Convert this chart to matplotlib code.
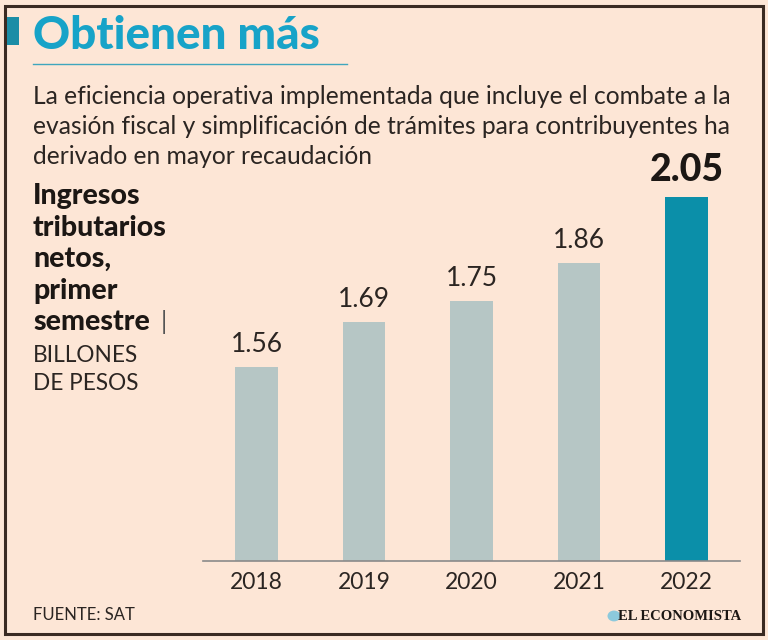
import matplotlib.pyplot as plt
from matplotlib.patches import Rectangle, Circle
from matplotlib.lines import Line2D

years = ["2018", "2019", "2020", "2021", "2022"]
ingresos = [1.56, 1.69, 1.75, 1.86, 2.05]
bar_colors = ["#b6c6c5", "#b6c6c5", "#b6c6c5", "#b6c6c5", "#0b8fa9"]

bg = "#fde6d6"
ink = "#2b2522"
plt.rcParams['font.family'] = ['Lato', 'DejaVu Sans']

W, H = 768, 640
fig = plt.figure(figsize=(7.68, 6.4), dpi=100, facecolor=bg)

def fx(x):
    return x / W

def fy(y):
    return 1 - y / H

# frame
fig.patches.append(Rectangle((fx(5), fy(634)), fx(758), (634 - 6) / H, transform=fig.transFigure,
                             fill=False, edgecolor="#3a2a22", linewidth=2.2))
fig.patches.append(Rectangle((fx(7), fy(45)), fx(12), 28 / H, transform=fig.transFigure,
                             facecolor="#1b8da6", edgecolor="none"))

fig.text(fx(33), fy(36), "Obtienen más", fontsize=33, fontweight="black", color="#17a3c8",
         va="center", ha="left")
fig.lines.append(Line2D([fx(33), fx(347)], [fy(64), fy(64)], transform=fig.transFigure,
                        color="#3fa6bd", linewidth=1))

sub = ["La eficiencia operativa implementada que incluye el combate a la",
       "evasión fiscal y simplificación de trámites para contribuyentes ha",
       "derivado en mayor recaudación"]
for i, line in enumerate(sub):
    fig.text(fx(33), fy(96 + 30 * i), line, fontsize=17.7, color=ink,
             va="center", ha="left")

left = ["Ingresos", "tributarios", "netos,", "primer", "semestre"]
for i, line in enumerate(left):
    fig.text(fx(33), fy(196 + 31.5 * i), line, fontsize=20.5, fontweight="black", color="#1c1714",
             va="center", ha="left")
fig.text(fx(161), fy(322), "|", fontsize=18, color="#555555", va="center", ha="left")
fig.text(fx(33), fy(355), "BILLONES", fontsize=16.3, color=ink, va="center", ha="left")
fig.text(fx(33), fy(384), "DE PESOS", fontsize=16.3, color=ink, va="center", ha="left")

# chart
ax = fig.add_axes([fx(203), fy(561), fx(740 - 203), (561 - 197) / H])
ax.set_facecolor("none")
base = 1.0
x = range(len(years))
ax.bar(x, [v - base for v in ingresos], bottom=base, width=0.395, color=bar_colors)
ax.set_xlim(-0.5, 4.5)
ax.set_ylim(base, 2.05)
for i, v in enumerate(ingresos):
    if i == len(ingresos) - 1:
        ax.annotate(f"{v:.2f}", (i, v), xytext=(0, 7), textcoords="offset points", ha="center",
                    va="bottom", fontsize=27, fontweight="black", color="#1c1714", annotation_clip=False)
    else:
        ax.annotate(f"{v:.2f}", (i, v), xytext=(0, 7), textcoords="offset points", ha="center",
                    va="bottom", fontsize=19, color=ink, annotation_clip=False)
ax.set_xticks(list(x))
ax.set_xticklabels(years, fontsize=16.5, color=ink)
ax.tick_params(axis="x", length=0, pad=8)
ax.set_yticks([])
for s in ["top", "right", "left"]:
    ax.spines[s].set_visible(False)
ax.spines["bottom"].set_color("#8a8a8a")
ax.spines["bottom"].set_linewidth(1.2)

fig.text(fx(33), fy(615), "FUENTE: SAT", fontsize=12, color=ink, va="center", ha="left")
fig.patches.append(Circle((fx(614), fy(616)), 6.5 / W, transform=fig.transFigure,
                          facecolor="#8cc9dc", edgecolor="none"))
fig.text(fx(741), fy(616), "EL ECONOMISTA", fontsize=10.5, fontweight="bold", color="#1c1714",
         family="Liberation Serif", va="center", ha="right")

fig.savefig("out.png", dpi=100, facecolor=bg)
